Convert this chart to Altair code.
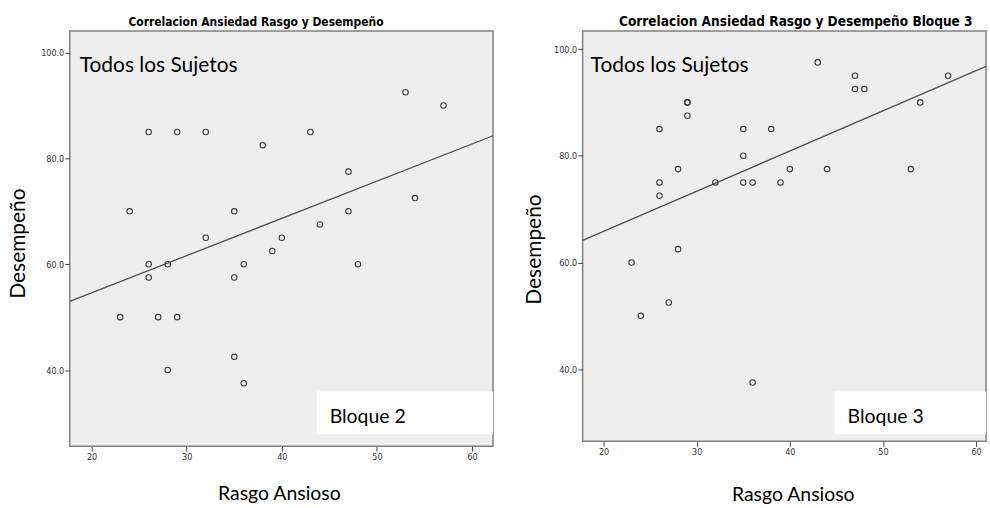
import altair as alt
import pandas as pd

# ---- data ----
left_x = [53, 57, 26, 29, 32, 38, 43, 47, 54, 24, 35, 47, 44, 32, 40, 39,
          26, 28, 36, 48, 26, 35, 23, 27, 29, 35, 28, 36]
left_y = [92.5, 90, 85, 85, 85, 82.5, 85, 77.5, 72.5, 70, 70, 70, 67.5, 65, 65, 62.5,
          60, 60, 60, 60, 57.5, 57.5, 50, 50, 50, 42.5, 40, 37.5]

right_x = [43, 47, 47, 48, 57, 54, 29, 29, 29, 26, 35, 38, 35, 28, 40, 44,
           53, 26, 32, 35, 36, 39, 26, 28, 23, 27, 24, 36]
right_y = [97.5, 95, 92.5, 92.5, 95, 90, 90, 90, 87.5, 85, 85, 85, 80, 77.5, 77.5, 77.5,
           77.5, 75, 75, 75, 75, 75, 72.5, 62.5, 60, 52.5, 50, 37.5]

x_ticks = [20, 30, 40, 50, 60]
y_ticks = [40, 60, 80, 100]

left_title = "Correlacion Ansiedad Rasgo y Desempeño"
right_title = "Correlacion Ansiedad Rasgo y Desempeño Bloque 3"
x_title = "Rasgo Ansioso"
y_title = "Desempeño"
note_top = "Todos los Sujetos"
left_block = "Bloque 2"
right_block = "Bloque 3"

BIG = "Lato"
NARROW = "'DejaVu Sans Condensed', 'Liberation Sans', sans-serif"


def panel(xs, ys, xdom, ydom, w, h, title, title_size, title_x, block,
          ytitle_x, ytitle_y, xtitle_x, xtitle_y, note_x, box_x, block_x, anchor=False):
    df = pd.DataFrame({"x": xs, "y": ys})
    xenc = alt.X("x:Q", scale=alt.Scale(domain=xdom, nice=False, zero=False),
                 axis=alt.Axis(values=x_ticks, format="d", title=x_title, grid=False,
                               domain=False, titleFontSize=19.5,
                               titleX=xtitle_x, titleY=xtitle_y,
                               titleBaseline="middle", titleAlign="center"))
    yenc = alt.Y("y:Q", scale=alt.Scale(domain=ydom, nice=False, zero=False),
                 axis=alt.Axis(values=y_ticks, format=".1f", title=y_title, grid=False,
                               domain=False, titleFontSize=21,
                               titleX=ytitle_x, titleY=ytitle_y,
                               titleBaseline="middle", titleAlign="center",
                               titleAngle=270))
    base = alt.Chart(df)
    pts = base.mark_point(shape="circle", filled=False, size=30, color="#3a3a3a",
                          strokeWidth=1.1, opacity=1).encode(x=xenc, y=yenc)
    reg = base.transform_regression("x", "y", extent=xdom).mark_line(
        color="#505050", strokeWidth=1.3).encode(x="x:Q", y="y:Q")

    ann = alt.Chart(pd.DataFrame({"t": [note_top], "b": [block], "h": [title]}))
    box = ann.mark_rect(color="white").encode(
        x=alt.value(box_x), x2=alt.value(w), y=alt.value(362), y2=alt.value(405))
    t1 = ann.mark_text(align="left", baseline="alphabetic", font=BIG, fontSize=21,
                       color="black").encode(x=alt.value(note_x), y=alt.value(41), text="t:N")
    t2 = ann.mark_text(align="left", baseline="alphabetic", font=BIG, fontSize=19.5,
                       color="black").encode(x=alt.value(block_x), y=alt.value(394), text="b:N")
    tt = ann.mark_text(align="center", baseline="middle", font=NARROW, fontSize=title_size,
                       fontWeight="bold", color="black").encode(
        x=alt.value(title_x), y=alt.value(-9), text="h:N")
    layers = [box, reg, pts, t1, t2, tt]
    if anchor:
        a = ann.mark_rect(color="white").encode(
            x=alt.value(-69), x2=alt.value(-68), y=alt.value(-29), y2=alt.value(-28))
        layers = [a] + layers
    return alt.layer(*layers).properties(width=w, height=h)


left = panel(left_x, left_y, [17.7, 62.2], [25.6, 104.1], 425, 417,
             left_title, 12, 187, left_block,
             ytitle_x=-51, ytitle_y=213, xtitle_x=210, xtitle_y=47,
             note_x=10, box_x=248, block_x=261, anchor=True)
right = panel(right_x, right_y, [17.75, 61.07], [26.5, 103.4], 405, 412,
              right_title, 13.6, 214, right_block,
              ytitle_x=-48, ytitle_y=219, xtitle_x=211, xtitle_y=53,
              note_x=8, box_x=253, block_x=266)

chart = alt.hconcat(left, right, spacing=90, bounds="flush").properties(
    padding={"left": 0, "top": 0, "right": 0, "bottom": 0},
    background="white"
).configure_view(
    fill="#eeeeee", stroke="#808080", strokeWidth=1.5
).configure_axis(
    domain=False, grid=False, tickColor="#444", tickSize=5, tickWidth=1,
    labelFont=NARROW, labelFontSize=9, labelColor="#333", labelPadding=1,
    titleFont=BIG, titleFontWeight="normal", titleColor="black"
)

chart.save("out.html", embed_options={"renderer": "svg", "actions": False})
